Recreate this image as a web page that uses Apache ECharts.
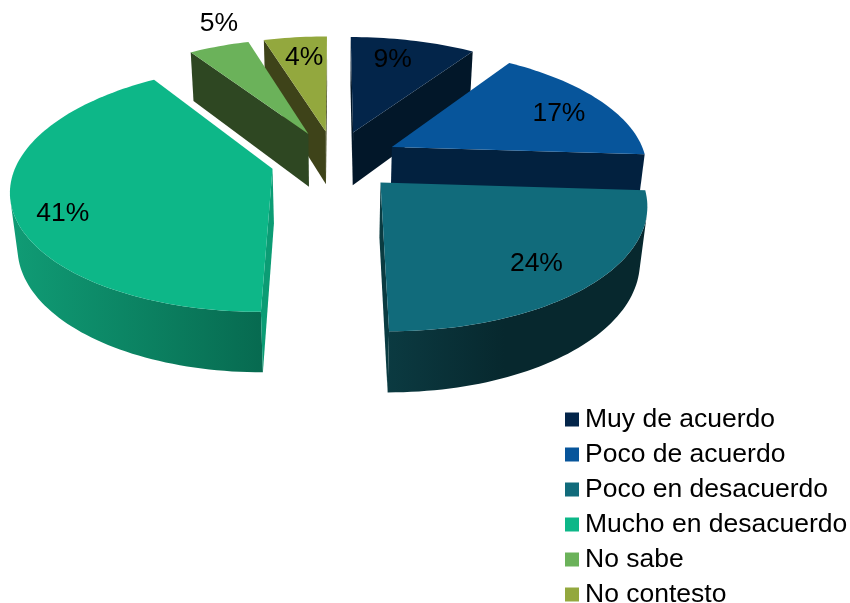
<!DOCTYPE html>
<html>
<head>
<meta charset="utf-8">
<style>html,body{margin:0;padding:0;background:#fff}#c{width:850px;height:603px}</style>
<script src="https://cdn.jsdelivr.net/npm/echarts@6/dist/echarts.min.js"></script>
</head>
<body>
<div id="c"></div>
<script>
var categories = ['Muy de acuerdo','Poco de acuerdo','Poco en desacuerdo','Mucho en desacuerdo','No sabe','No contesto'];
var values = [9.4,16.6,24,40.7,4.55,4.75];
var valueLabels = ['9%','17%','24%','41%','5%','4%'];
var topColors = ['#03254A','#07559B','#116B7B','#0DB788','#6BB25A','#93A83E'];
var wallColors = ['#021729','#02213F','#0A3B41','#0B9C74','#2E4722','#3E4319'];
var outerStops = {
  2: [[0,'#0B3A41'],[0.45,'#07282E'],[1,'#07282E']],
  3: [[0,'#109C75'],[1,'#076A50']]
};
var labelRadius = [0.78,0.78,0.78,0.83,1.28,0.78];
var labelShift = [-3,2,1,-7.3,4.8,1];
var paintOrder = [5,4,0,1,3,2];

var EXPLODE = 0.2533, RX = 254.7, RY = 118, CX = 335, CY = 160, HEIGHT = 55.3, PK = 0.155, PM = 0.023;
function project(X, Y, Z) {
  var w = 1 + PK * Y + PM * Z;
  return [CX + RX * X / w, CY + (-RY * Y + HEIGHT * Z) / w];
}
function shoelace(p) {
  var s = 0;
  for (var i = 0; i < p.length; i++) {
    var a = p[i], b = p[(i + 1) % p.length];
    s += a[0] * b[1] - b[0] * a[1];
  }
  return s;
}
var total = values.reduce(function (a, b) { return a + b; }, 0);
function rad(d) { return d * Math.PI / 180; }

function renderSlice(params, api) {
  var idx = params.seriesIndex;
  var before = 0;
  for (var i = 0; i < idx; i++) before += values[i];
  var v = api.value(0);
  var a0 = before / total * 360, a1 = (before + v) / total * 360, mid = (a0 + a1) / 2;
  var ox = EXPLODE * Math.sin(rad(mid)), oy = EXPLODE * Math.cos(rad(mid));
  function rim(a, z) { return project(ox + Math.sin(rad(a)), oy + Math.cos(rad(a)), z); }
  var steps = Math.max(12, Math.ceil((a1 - a0) / 1.5));
  var top = [project(ox, oy, 0)], k;
  for (k = 0; k <= steps; k++) top.push(rim(a0 + (a1 - a0) * k / steps, 0));
  var children = [];
  function poly(points, fill) {
    children.push({ type: 'polygon', shape: { points: points }, style: { fill: fill, stroke: null }, silent: true });
  }
  var upper = [], lower = [];
  for (k = 0; k < steps; k++) {
    var s = a0 + (a1 - a0) * k / steps, e = a0 + (a1 - a0) * (k + 1) / steps;
    if (shoelace([rim(s, 0), rim(e, 0), rim(e, 1), rim(s, 1)]) < 0) {
      if (!upper.length) { upper.push(rim(s, 0)); lower.push(rim(s, 1)); }
      upper.push(rim(e, 0)); lower.push(rim(e, 1));
    }
  }
  if (upper.length) {
    var stops = outerStops[idx];
    poly(upper.concat(lower.reverse()), stops ? {
      type: 'linear', x: 0, y: 0, x2: 1, y2: 0,
      colorStops: stops.map(function (c) { return { offset: c[0], color: c[1] }; })
    } : wallColors[idx]);
  }
  var ap0 = project(ox, oy, 0), ap1 = project(ox, oy, 1);
  var startQ = [ap0, rim(a0, 0), rim(a0, 1), ap1];
  var endQ = [ap0, rim(a1, 0), rim(a1, 1), ap1];
  if (shoelace(startQ) < 0) poly(startQ, wallColors[idx]);
  if (shoelace(endQ) > 0) poly(endQ, wallColors[idx]);
  poly(top, topColors[idx]);
  var la = rad(mid + labelShift[idx]), lr = labelRadius[idx];
  var lp = project(ox + lr * Math.sin(la), oy + lr * Math.cos(la), 0);
  children.push({
    type: 'text', silent: true, z2: 100, x: lp[0], y: lp[1] + 2,
    style: { text: valueLabels[idx], fill: '#000', font: '26.5px "Liberation Sans", Arial, sans-serif', textAlign: 'center', textVerticalAlign: 'middle' }
  });
  return { type: 'group', children: children };
}

var series = categories.map(function (name, i) {
  return {
    type: 'custom', name: name, coordinateSystem: 'none', silent: true,
    z: 2 + paintOrder.indexOf(i),
    itemStyle: { color: topColors[i] },
    renderItem: renderSlice,
    data: [[values[i]]],
    animation: false
  };
});
var chart = echarts.init(document.getElementById('c'), null, { renderer: 'canvas' });
chart.setOption({
  backgroundColor: '#fff',
  animation: false,
  legend: {
    data: categories, orient: 'vertical', left: 565, top: 406, height: 280,
    itemWidth: 14, itemHeight: 14, itemGap: 8, padding: 0, icon: 'rect',
    selectedMode: false,
    textStyle: { color: '#000', fontSize: 26.5, fontFamily: '"Liberation Sans", Arial, sans-serif', padding: [0, 0, 0, 1], lineHeight: 18 }
  },
  series: series
});
</script>
</body>
</html>
